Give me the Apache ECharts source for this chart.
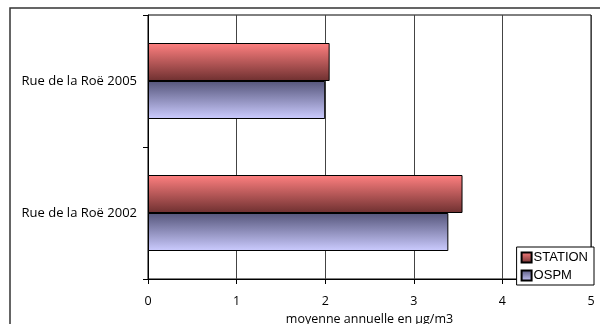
<!DOCTYPE html>
<html><head><meta charset="utf-8">
<script src="https://cdn.jsdelivr.net/npm/echarts@6/dist/echarts.min.js"></script>
<style>html,body{margin:0;padding:0;background:#fff}#c{width:600px;height:324px}</style>
</head><body><div id="c"></div>
<script>
const categories = ['Rue de la Roë 2002', 'Rue de la Roë 2005'];
const stationValues = [3.55, 2.05];
const ospmValues = [3.39, 2.0];
const xTicks = [0, 1, 2, 3, 4, 5];
const axisTitle = 'moyenne annuelle en µg/m3';

const chart = echarts.init(document.getElementById('c'));
const grad = (c1, c2) => new echarts.graphic.LinearGradient(0, 0, 0, 1, [{offset: 0, color: c1}, {offset: 1, color: c2}]);
chart.setOption({
  animation: false,
  graphic: [{type: 'rect', shape: {x: 10, y: 8, width: 700, height: 400}, style: {fill: 'none', stroke: '#333', lineWidth: 1.5}, z: -1}],
  grid: {left: 148, right: 9, top: 15, bottom: 45, show: true, borderColor: '#000', borderWidth: 1,
         containLabel: false, outerBoundsMode: 'none'},
  legend: {
    orient: 'vertical', right: 6, bottom: 39, data: ['STATION', 'OSPM'],
    backgroundColor: '#fff', borderColor: '#000', borderWidth: 1, borderRadius: 0,
    padding: [4, 6, 3, 4], itemGap: 5, itemWidth: 10, itemHeight: 10, icon: 'rect',
    textStyle: {fontFamily: 'Liberation Sans', fontSize: 13, color: '#000', padding: [0, 0, 0, -3]}
  },
  xAxis: {
    type: 'value', min: xTicks[0], max: xTicks[xTicks.length - 1], interval: 1,
    name: axisTitle, nameLocation: 'middle', nameGap: 28,
    nameTextStyle: {fontFamily: 'Open Sans', fontSize: 12.5, color: '#000'},
    axisLine: {show: true, lineStyle: {color: '#000'}},
    axisTick: {show: true, length: 5, lineStyle: {color: '#000'}},
    axisLabel: {fontFamily: 'Open Sans', fontSize: 12.5, color: '#000', margin: 16},
    splitLine: {show: true, lineStyle: {color: '#444', width: 1}}
  },
  yAxis: {
    type: 'category', data: categories,
    axisLine: {show: true, lineStyle: {color: '#000'}},
    axisTick: {show: true, length: 5, lineStyle: {color: '#000'}},
    axisLabel: {fontFamily: 'Open Sans', fontSize: 13, color: '#000', margin: 11}
  },
  series: [
    {name: 'STATION', type: 'bar', data: stationValues, barWidth: 38, barGap: '0%',
     itemStyle: {color: grad('#ff8080', '#6e3030'), borderColor: '#000', borderWidth: 1}},
    {name: 'OSPM', type: 'bar', data: ospmValues, barWidth: 38, barGap: '0%',
     itemStyle: {color: grad('#55557a', '#ccccff'), borderColor: '#000', borderWidth: 1}}
  ]
});
</script></body></html>
